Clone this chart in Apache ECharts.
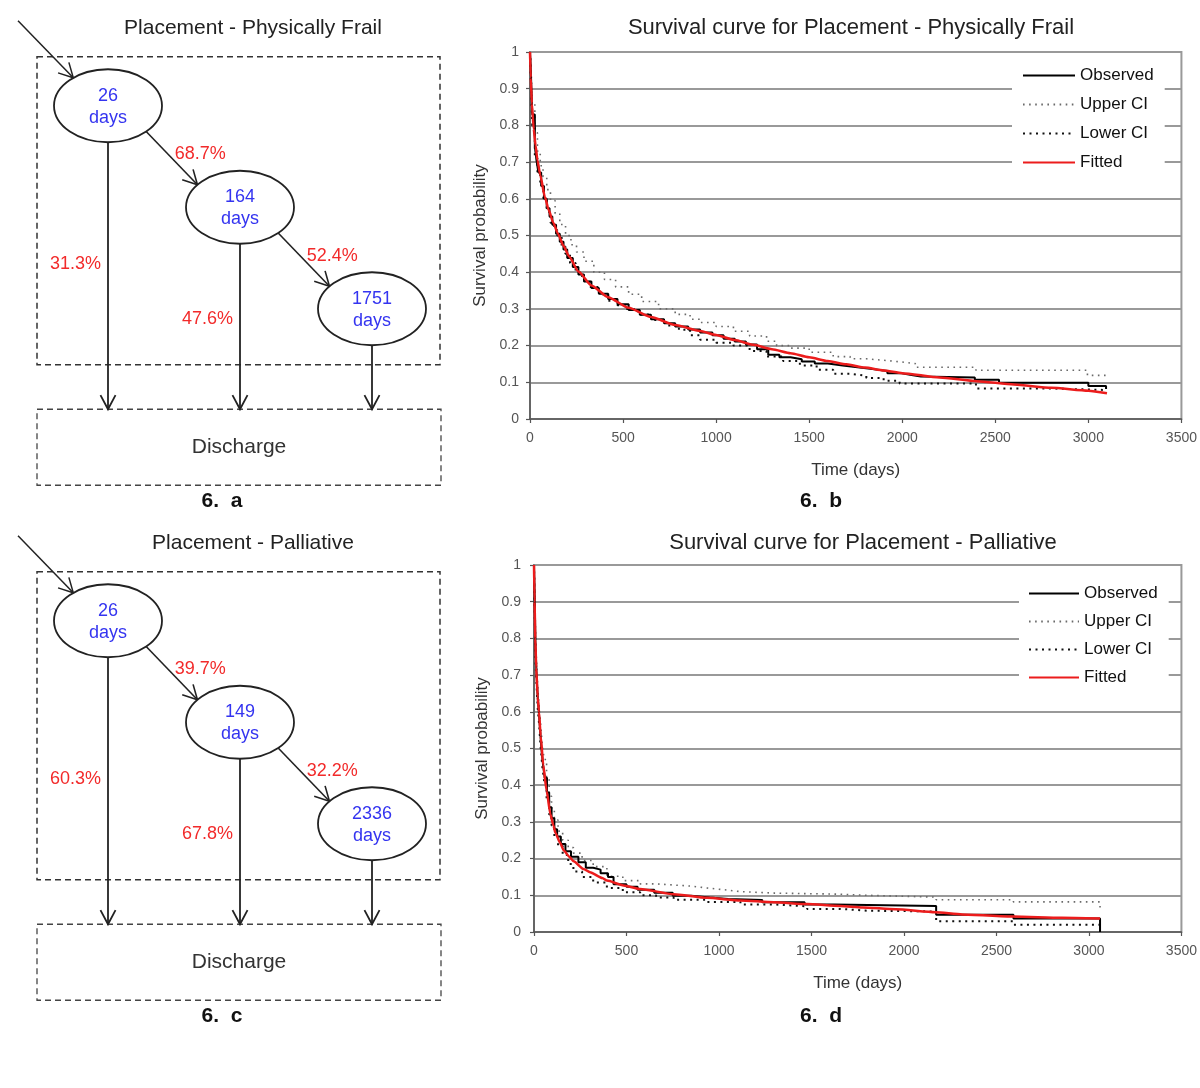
<!DOCTYPE html>
<html><head><meta charset="utf-8">
<script src="https://cdn.jsdelivr.net/npm/echarts@6/dist/echarts.min.js"></script>
<style>html,body{margin:0;padding:0;background:#fff}#c{width:1200px;height:1088px}</style>
</head><body><div id="c"></div><script>
// ---------- Diagram data ----------
const daysA = [26, 164, 1751];
const transA = ['68.7%', '52.4%'];
const exitA = ['31.3%', '47.6%'];
const daysC = [26, 149, 2336];
const transC = ['39.7%', '32.2%'];
const exitC = ['60.3%', '67.8%'];

// ---------- Survival curve data (time in days, survival probability) ----------
const legendNames = ['Observed', 'Upper CI', 'Lower CI', 'Fitted'];
const xTicks = [0, 500, 1000, 1500, 2000, 2500, 3000, 3500];

const observedB = [[0,1],[3,0.97],[12,0.83],[26,0.743],[35,0.705],[45,0.672],[60,0.635],[75,0.6],[90,0.574],[105,0.552],[120,0.529],[140,0.505],[160,0.483],[180,0.462],[200,0.439],[230,0.414],[260,0.394],[290,0.375],[330,0.357],[370,0.341],[420,0.327],[470,0.313],[530,0.297],[590,0.284],[650,0.272],[720,0.261],[780,0.252],[850,0.244],[914,0.236],[980,0.228],[1040,0.219],[1100,0.211],[1160,0.203],[1220,0.19],[1280,0.175],[1340,0.168],[1400,0.163],[1460,0.157],[1530,0.151],[1600,0.146],[1680,0.141],[1760,0.136],[1840,0.131],[1920,0.125],[1990,0.12],[2050,0.116],[2100,0.113],[2390,0.107],[2520,0.099],[3000,0.09],[3095,0.082]];
const upperB = [[0,1],[4,0.98],[12,0.86],[26,0.78],[40,0.73],[55,0.69],[70,0.66],[90,0.625],[110,0.595],[135,0.56],[160,0.53],[191,0.5],[220,0.475],[250,0.455],[290,0.43],[343,0.4],[400,0.38],[460,0.36],[530,0.34],[600,0.32],[691,0.3],[780,0.285],[860,0.272],[914,0.263],[1000,0.252],[1093,0.239],[1180,0.226],[1271,0.212],[1325,0.2],[1400,0.193],[1500,0.182],[1629,0.17],[1720,0.164],[1807,0.16],[1900,0.156],[1986,0.151],[2070,0.141],[2396,0.133],[2995,0.119],[3102,0.119]];
const lowerB = [[0,1],[3,0.95],[12,0.8],[26,0.71],[40,0.67],[55,0.635],[72,0.6],[90,0.565],[110,0.535],[130,0.515],[146,0.5],[170,0.47],[190,0.45],[215,0.425],[245,0.4],[280,0.38],[320,0.36],[370,0.34],[420,0.322],[470,0.31],[512,0.3],[580,0.285],[650,0.27],[730,0.255],[800,0.243],[860,0.228],[914,0.216],[1000,0.208],[1093,0.2],[1180,0.185],[1271,0.17],[1360,0.158],[1450,0.146],[1540,0.134],[1629,0.123],[1720,0.118],[1807,0.112],[1900,0.104],[1986,0.097],[2396,0.083],[2807,0.079],[3102,0.079]];
const fittedB = [[0,1],[4,0.93],[10,0.86],[20,0.79],[30,0.745],[40,0.705],[55,0.665],[80,0.605],[100,0.57],[125,0.535],[150,0.505],[180,0.472],[210,0.443],[260,0.402],[330,0.364],[420,0.332],[530,0.303],[650,0.278],[780,0.256],[914,0.24],[1000,0.229],[1100,0.215],[1200,0.202],[1300,0.19],[1400,0.179],[1500,0.168],[1600,0.158],[1700,0.149],[1800,0.14],[1900,0.132],[2000,0.125],[2200,0.113],[2400,0.103],[2600,0.094],[2800,0.085],[3000,0.077],[3100,0.07]];

const observedD = [[0,1],[3,0.93],[8,0.78],[14,0.7],[20,0.64],[26,0.6],[33,0.55],[40,0.5],[48,0.46],[58,0.42],[70,0.38],[82,0.34],[95,0.31],[110,0.28],[125,0.26],[145,0.24],[170,0.22],[200,0.205],[240,0.19],[280,0.175],[320,0.17],[360,0.16],[400,0.15],[430,0.13],[500,0.123],[560,0.115],[650,0.107],[750,0.099],[850,0.094],[950,0.09],[1050,0.087],[1234,0.081],[1463,0.075],[1620,0.071],[2174,0.047],[2592,0.037],[3060,0]];
const upperD = [[0,1],[3,0.96],[8,0.82],[14,0.73],[20,0.67],[27,0.62],[35,0.57],[45,0.51],[55,0.47],[68,0.42],[82,0.37],[95,0.335],[110,0.305],[130,0.275],[155,0.25],[185,0.23],[213,0.215],[260,0.195],[320,0.178],[394,0.152],[480,0.14],[574,0.131],[660,0.128],[755,0.125],[850,0.12],[935,0.115],[1030,0.11],[1116,0.106],[1300,0.103],[1657,0.1],[1800,0.095],[2174,0.088],[2592,0.082],[3060,0.064]];
const lowerD = [[0,1],[3,0.9],[8,0.74],[14,0.67],[20,0.61],[27,0.57],[35,0.51],[45,0.45],[55,0.41],[68,0.36],[82,0.32],[95,0.29],[110,0.26],[130,0.235],[155,0.21],[185,0.185],[213,0.165],[260,0.15],[320,0.135],[394,0.12],[480,0.108],[574,0.1],[660,0.094],[755,0.088],[935,0.082],[1116,0.075],[1296,0.07],[1477,0.063],[1657,0.058],[1800,0.056],[2174,0.029],[2592,0.02],[3060,0.02]];
const fittedD = [[0,1],[3,0.9],[7,0.8],[12,0.72],[20,0.64],[27,0.6],[36,0.535],[50,0.455],[68,0.385],[89,0.32],[105,0.29],[116,0.27],[141,0.243],[161,0.222],[191,0.205],[214,0.193],[267,0.172],[303,0.163],[369,0.147],[394,0.14],[484,0.127],[574,0.117],[755,0.103],[935,0.093],[1116,0.086],[1296,0.081],[1477,0.076],[1657,0.071],[1776,0.067],[1955,0.062],[2170,0.054],[2314,0.048],[2592,0.042],[2853,0.039],[3060,0.037]];

// ---------- Styling ----------
const FONT = '"Liberation Sans", Arial, Helvetica, sans-serif';
const RED = '#f22a2a';
const BLUE = '#3434f0';
const INK = '#222';

function diagramRender(days, trans, exits) {
  return function (params, api) {
    const i = api.value(0);
    const n = days.length;
    const c = api.coord([i, i]);
    const RX = 54, RY = 36.5;
    const kids = [];
    const arrow = (x1, y1, x2, y2, w) => {
      const a = Math.atan2(y2 - y1, x2 - x1);
      const L = 16, s = 0.49;
      kids.push({type: 'line', shape: {x1, y1, x2, y2}, style: {stroke: INK, lineWidth: w}});
      kids.push({type: 'polyline', shape: {points: [
        [x2 - L * Math.cos(a - s), y2 - L * Math.sin(a - s)], [x2, y2],
        [x2 - L * Math.cos(a + s), y2 - L * Math.sin(a + s)]]},
        style: {stroke: INK, lineWidth: w, fill: null}});
    };
    const dY = api.coord([i, n])[1];
    if (i === 0) {
      const cl = api.coord([n - 1, n - 1]);
      const bx = c[0] - 71, bw = (cl[0] + 68) - bx;
      kids.push({type: 'rect', shape: {x: bx, y: c[1] - 49, width: bw, height: (cl[1] + 56) - (c[1] - 49)},
        style: {fill: null, stroke: '#333', lineWidth: 1.5, lineDash: [6, 4]}});
      kids.push({type: 'rect', shape: {x: bx, y: dY - 1, width: bw + 1, height: 76},
        style: {fill: null, stroke: '#444', lineWidth: 1.3, lineDash: [6, 4]}});
      kids.push({type: 'text', x: bx + (bw + 1) / 2, y: dY - 1 + 38,
        style: {text: 'Discharge', fill: '#333', fontSize: 21, fontFamily: FONT, align: 'center', verticalAlign: 'middle'}});
      const ea = 230 * Math.PI / 180;
      arrow(c[0] - 90, c[1] - 85, c[0] + RX * Math.cos(ea), c[1] + RY * Math.sin(ea), 1.5);
    }
    const yTop = c[1] + RY;
    arrow(c[0], yTop, c[0], dY - 1, 1.8);
    if (i < exits.length) {
      kids.push({type: 'text', x: c[0] - 7, y: yTop + 0.455 * (dY - yTop),
        style: {text: exits[i], fill: RED, fontSize: 18, fontFamily: FONT, align: 'right', verticalAlign: 'middle'}});
    }
    if (i < n - 1) {
      const c2 = api.coord([i + 1, i + 1]);
      const a1 = 45 * Math.PI / 180, a2 = 218 * Math.PI / 180;
      const x1 = c[0] + RX * Math.cos(a1), y1 = c[1] + RY * Math.sin(a1);
      const x2 = c2[0] + RX * Math.cos(a2), y2 = c2[1] + RY * Math.sin(a2);
      arrow(x1, y1, x2, y2, 1.6);
      kids.push({type: 'text', x: (x1 + x2) / 2 + 3, y: (y1 + y2) / 2 - 4,
        style: {text: trans[i], fill: RED, fontSize: 18, fontFamily: FONT, align: 'left', verticalAlign: 'middle'}});
    }
    kids.push({type: 'ellipse', shape: {cx: c[0], cy: c[1], rx: RX, ry: RY},
      style: {fill: '#fff', stroke: INK, lineWidth: 1.8}});
    kids.push({type: 'text', x: c[0], y: c[1] + 1,
      style: {text: days[i] + '\ndays', fill: BLUE, fontSize: 18, lineHeight: 22, fontFamily: FONT, align: 'center', verticalAlign: 'middle'}});
    return {type: 'group', children: kids};
  };
}

function diagAxes(gi) {
  return {
    x: {gridIndex: gi, type: 'value', min: -0.5, max: 2.5, show: false},
    y: {gridIndex: gi, type: 'value', min: -0.5, max: 3.5, inverse: true, show: false}
  };
}
function chartAxes(gi, yMargin) {
  const axisLine = {show: true, onZero: false, lineStyle: {color: '#555', width: 1.5}};
  const axisTick = {show: true, length: 4, lineStyle: {color: '#555', width: 1.2}};
  return {
    x: {gridIndex: gi, type: 'value', min: xTicks[0], max: xTicks[xTicks.length - 1], interval: 500,
      name: 'Time (days)', nameLocation: 'middle', nameGap: 43,
      nameTextStyle: {fontSize: 17, color: '#333', fontFamily: FONT},
      axisLine, axisTick, splitLine: {show: false},
      axisLabel: {fontSize: 14, color: '#555', margin: 12, fontFamily: FONT, formatter: v => String(v)}},
    y: {gridIndex: gi, type: 'value', min: 0, max: 1, interval: 0.1,
      name: 'Survival probability', nameLocation: 'middle', nameGap: 41,
      nameTextStyle: {fontSize: 17, color: '#333', fontFamily: FONT},
      axisLine, axisTick, splitLine: {show: true, lineStyle: {color: '#999', width: 2}},
      axisLabel: {fontSize: 14, color: '#555', margin: yMargin, fontFamily: FONT, formatter: v => String(+v.toFixed(1))}}
  };
}
const NOSYM = {color: 'rgba(0,0,0,0)', borderColor: 'rgba(0,0,0,0)', borderWidth: 0};
function curveSeries(gi, obs, up, low, fit) {
  const base = {type: 'line', xAxisIndex: gi, yAxisIndex: gi, symbol: 'none', showSymbol: false, silent: true, itemStyle: NOSYM};
  return [
    Object.assign({}, base, {name: 'Upper CI', data: up, step: 'end', z: 2,
      lineStyle: {color: '#6a6a6a', width: 1.6, type: [1.6, 4.5]}}),
    Object.assign({}, base, {name: 'Lower CI', data: low, step: 'end', z: 2,
      lineStyle: {color: '#111', width: 2, type: [2, 4.5]}}),
    Object.assign({}, base, {name: 'Observed', data: obs, step: 'end', z: 3,
      lineStyle: {color: '#000', width: 2}}),
    Object.assign({}, base, {name: 'Fitted', data: fit, smooth: 0.2, smoothMonotone: 'x', z: 4,
      lineStyle: {color: '#ec1c1c', width: 2.5}})
  ];
}
function legendFor(left, top, iw, gap, padL) {
  return {data: legendNames, orient: 'vertical', left: left, top: top, padding: [7, 11, 10, padL],
    backgroundColor: '#fff', itemWidth: iw, itemHeight: 17, itemGap: gap, selectedMode: false, z: 10,
    itemStyle: NOSYM,
    textStyle: {fontSize: 17, color: '#111', lineHeight: 17, fontFamily: FONT}};
}

const dA = diagAxes(0), cB = chartAxes(1, 11), dC = diagAxes(2), cD = chartAxes(3, 13);

function txt(x, y, text, size, weight, color) {
  return {type: 'text', x: x, y: y, silent: true,
    style: {text: text, fontSize: size, fontWeight: weight || 'normal', fontFamily: FONT, fill: color || '#222', align: 'center', verticalAlign: 'middle'}};
}

const option = {
  animation: false,
  backgroundColor: '#fff',
  textStyle: {fontFamily: FONT},
  grid: [
    {left: 42, top: 55, width: 396, height: 406, show: false},
    {left: 530, top: 52, width: 652, height: 367, show: true, borderColor: '#999', borderWidth: 2, backgroundColor: 'transparent'},
    {left: 42, top: 570, width: 396, height: 406, show: false},
    {left: 534, top: 565, width: 649, height: 367, show: true, borderColor: '#999', borderWidth: 2, backgroundColor: 'transparent'}
  ],
  xAxis: [dA.x, cB.x, dC.x, cD.x],
  yAxis: [dA.y, cB.y, dC.y, cD.y],
  legend: [legendFor(1012, 60, 52, 12, 10), legendFor(1019, 578, 50, 11, 9)],
  series: [
    {type: 'custom', xAxisIndex: 0, yAxisIndex: 0, clip: false, silent: true,
      data: daysA.map((d, i) => [i, i]), encode: {x: 0, y: 1}, renderItem: diagramRender(daysA, transA, exitA)},
    {type: 'custom', xAxisIndex: 2, yAxisIndex: 2, clip: false, silent: true,
      data: daysC.map((d, i) => [i, i]), encode: {x: 0, y: 1}, renderItem: diagramRender(daysC, transC, exitC)}
  ].concat(curveSeries(1, observedB, upperB, lowerB, fittedB), curveSeries(3, observedD, upperD, lowerD, fittedD)),
  graphic: [
    txt(253, 28, 'Placement - Physically Frail', 21, 'normal', '#222'),
    txt(851, 28, 'Survival curve for Placement - Physically Frail', 22, 'normal', '#222'),
    txt(222, 501, '6.  a', 21, 'bold', '#111'),
    txt(821, 501, '6.  b', 21, 'bold', '#111'),
    txt(253, 543, 'Placement - Palliative', 21, 'normal', '#222'),
    txt(863, 543, 'Survival curve for Placement - Palliative', 22, 'normal', '#222'),
    txt(222, 1016, '6.  c', 21, 'bold', '#111'),
    txt(821, 1016, '6.  d', 21, 'bold', '#111')
  ]
};

const chart = echarts.init(document.getElementById('c'), null, {renderer: 'canvas'});
chart.setOption(option);
</script></body></html>
